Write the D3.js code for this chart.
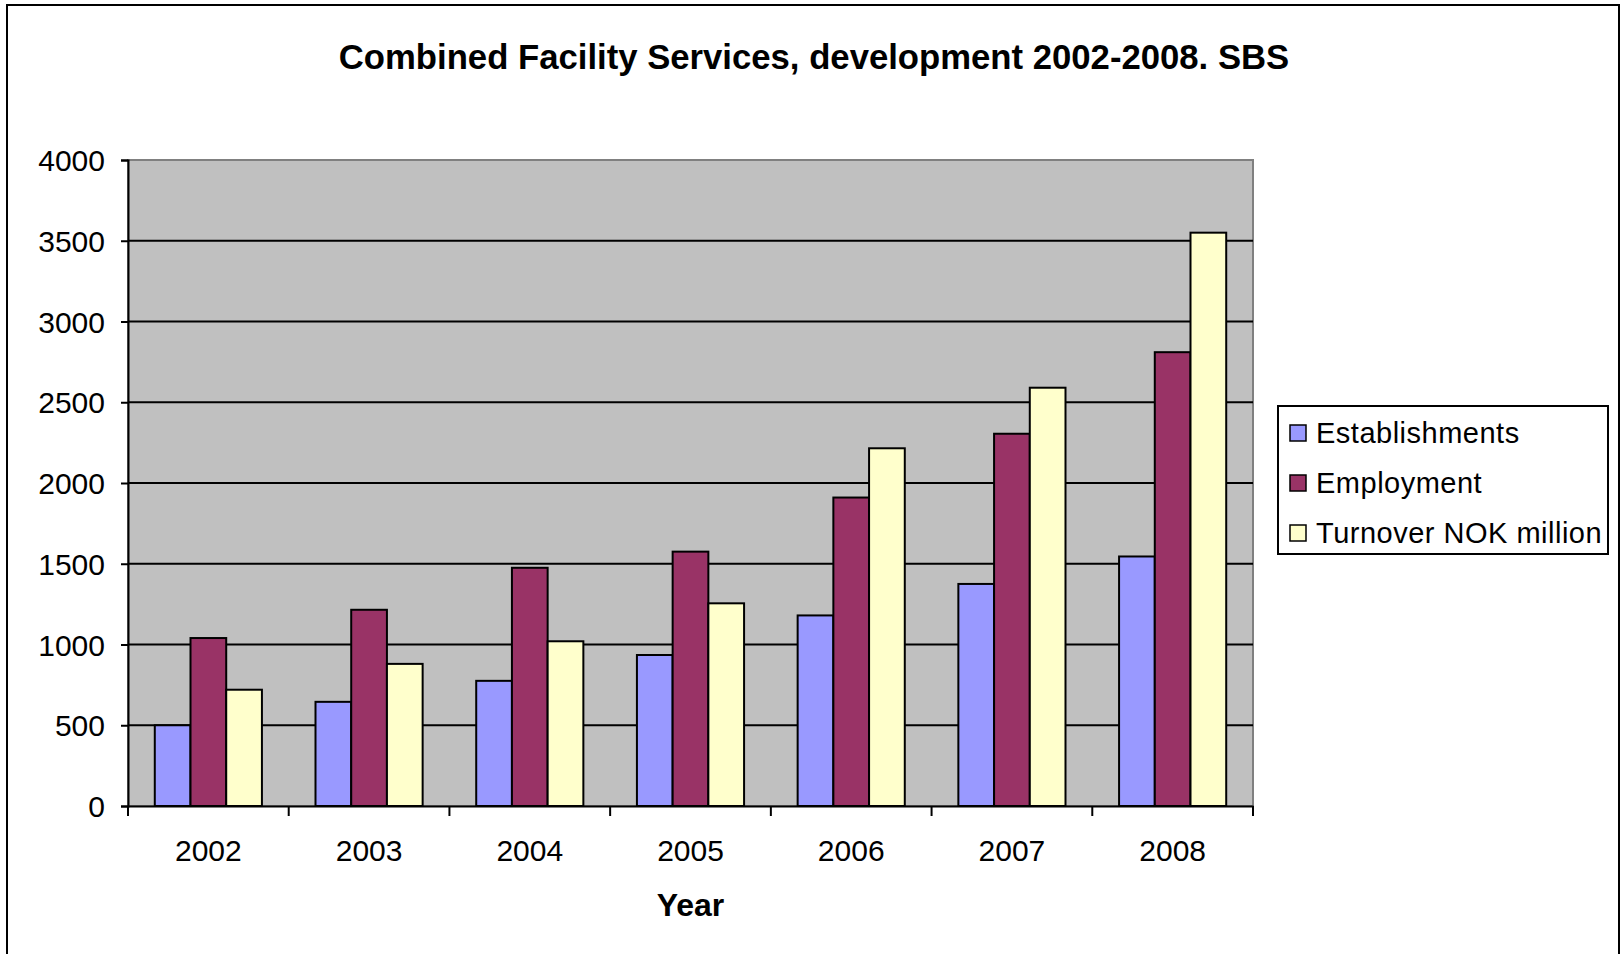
<!DOCTYPE html>
<html>
<head>
<meta charset="utf-8">
<script src="https://cdn.jsdelivr.net/npm/d3@7"></script>
<style>
  body { margin: 0; background: #fff; }
  text { font-family: "Liberation Sans", Arial, sans-serif; fill: #000; }
</style>
</head>
<body>
<script>
const width = 1622;
const height = 954;

// data
const years = ["2002", "2003", "2004", "2005", "2006", "2007", "2008"];
const seriesNames = ["Establishments", "Employment", "Turnover NOK million"];
const establishments = [500, 645, 775, 935, 1180, 1375, 1545];
const employment = [1040, 1215, 1475, 1575, 1910, 2305, 2810];
const turnover = [720, 880, 1020, 1255, 2215, 2590, 3550];
const yTicks = [0, 500, 1000, 1500, 2000, 2500, 3000, 3500, 4000];
const colors = ["#9999FF", "#993366", "#FFFFCC"];

const plot = { left: 128, top: 160, right: 1253, bottom: 806 };

var svg = d3
  .select("body")
  .append("svg")
  .attr("width", width)
  .attr("height", height);

// outer frame
svg
  .append("rect")
  .attr("x", 7)
  .attr("y", 5)
  .attr("width", 1612)
  .attr("height", 980)
  .attr("fill", "#fff")
  .attr("stroke", "#000")
  .attr("stroke-width", 2);

svg
  .append("text")
  .attr("x", 814)
  .attr("y", 69)
  .attr("text-anchor", "middle")
  .attr("font-size", 34.7)
  .attr("font-weight", "bold")
  .text("Combined Facility Services, development 2002-2008. SBS");

var y = d3.scaleLinear().domain([0, 4000]).range([plot.bottom, plot.top]);
var x0 = d3.scaleBand().domain(years).range([plot.left, plot.right]);
var x1 = d3
  .scaleBand()
  .domain(seriesNames)
  .range([x0.bandwidth() / 6, (x0.bandwidth() * 5) / 6]);
var color = d3.scaleOrdinal().domain(seriesNames).range(colors);

// plot background
svg
  .append("rect")
  .attr("x", plot.left)
  .attr("y", plot.top)
  .attr("width", plot.right - plot.left)
  .attr("height", plot.bottom - plot.top)
  .attr("fill", "#C0C0C0")
  .attr("stroke", "#808080")
  .attr("stroke-width", 2);

// gridlines
svg
  .append("g")
  .selectAll("line")
  .data(yTicks.filter(d => d > 0 && d < 4000))
  .enter()
  .append("line")
  .attr("x1", plot.left)
  .attr("x2", plot.right)
  .attr("y1", d => y(d))
  .attr("y2", d => y(d))
  .attr("stroke", "#000")
  .attr("stroke-width", 2);

var table = years.map((yr, i) => ({
  year: yr,
  values: [establishments[i], employment[i], turnover[i]]
}));

var groups = svg
  .append("g")
  .selectAll("g")
  .data(table)
  .enter()
  .append("g")
  .attr("transform", d => "translate(" + x0(d.year) + ",0)");

groups
  .selectAll("rect")
  .data(d => d.values.map((v, j) => ({ key: seriesNames[j], value: v })))
  .enter()
  .append("rect")
  .attr("x", d => x1(d.key))
  .attr("width", x1.bandwidth())
  .attr("y", d => y(d.value))
  .attr("height", d => y(0) - y(d.value))
  .attr("fill", d => color(d.key))
  .attr("stroke", "#000")
  .attr("stroke-width", 2);

// y axis
var yAxis = svg
  .append("g")
  .attr("transform", "translate(" + plot.left + ",0)")
  .call(
    d3
      .axisLeft(y)
      .tickValues(yTicks)
      .tickFormat(d3.format("d"))
      .tickSize(7)
      .tickPadding(16)
  );
yAxis.select(".domain").attr("stroke", "#000").attr("stroke-width", 2);
yAxis.selectAll(".tick line").attr("stroke", "#000").attr("stroke-width", 2);
yAxis
  .selectAll(".tick text")
  .attr("font-size", 30)
  .attr("font-family", "Liberation Sans, Arial, sans-serif")
  .attr("dy", "0.35em");

// x axis, ticks sit on the band edges
var xAxis = svg
  .append("g")
  .attr("transform", "translate(0," + plot.bottom + ")")
  .call(d3.axisBottom(x0).tickSize(0).tickPadding(34));
xAxis.select(".domain").attr("stroke", "#000").attr("stroke-width", 2);
xAxis
  .selectAll(".tick text")
  .attr("font-size", 30)
  .attr("font-family", "Liberation Sans, Arial, sans-serif");
xAxis
  .selectAll(".edge")
  .data(years.map(d => x0(d)).concat([plot.right]))
  .enter()
  .append("line")
  .attr("x1", d => d)
  .attr("x2", d => d)
  .attr("y1", 0)
  .attr("y2", 10)
  .attr("stroke", "#000")
  .attr("stroke-width", 2);

svg
  .append("text")
  .attr("x", (plot.left + plot.right) / 2)
  .attr("y", 916)
  .attr("text-anchor", "middle")
  .attr("font-size", 32)
  .attr("font-weight", "bold")
  .text("Year");

// legend
var legend = svg.append("g").attr("transform", "translate(1278,406)");
legend
  .append("rect")
  .attr("width", 330)
  .attr("height", 148)
  .attr("fill", "#fff")
  .attr("stroke", "#000")
  .attr("stroke-width", 2);

var item = legend
  .selectAll(".item")
  .data(seriesNames)
  .enter()
  .append("g")
  .attr("transform", (d, i) => "translate(12," + (27 + i * 50) + ")");

item
  .append("rect")
  .attr("x", 0)
  .attr("y", -8)
  .attr("width", 16)
  .attr("height", 16)
  .attr("fill", d => color(d))
  .attr("stroke", "#000")
  .attr("stroke-width", 1.5);

item
  .append("text")
  .attr("x", 26)
  .attr("dy", "0.36em")
  .attr("font-size", 29)
  .attr("letter-spacing", 0.5)
  .text(d => d);
</script>
</body>
</html>
